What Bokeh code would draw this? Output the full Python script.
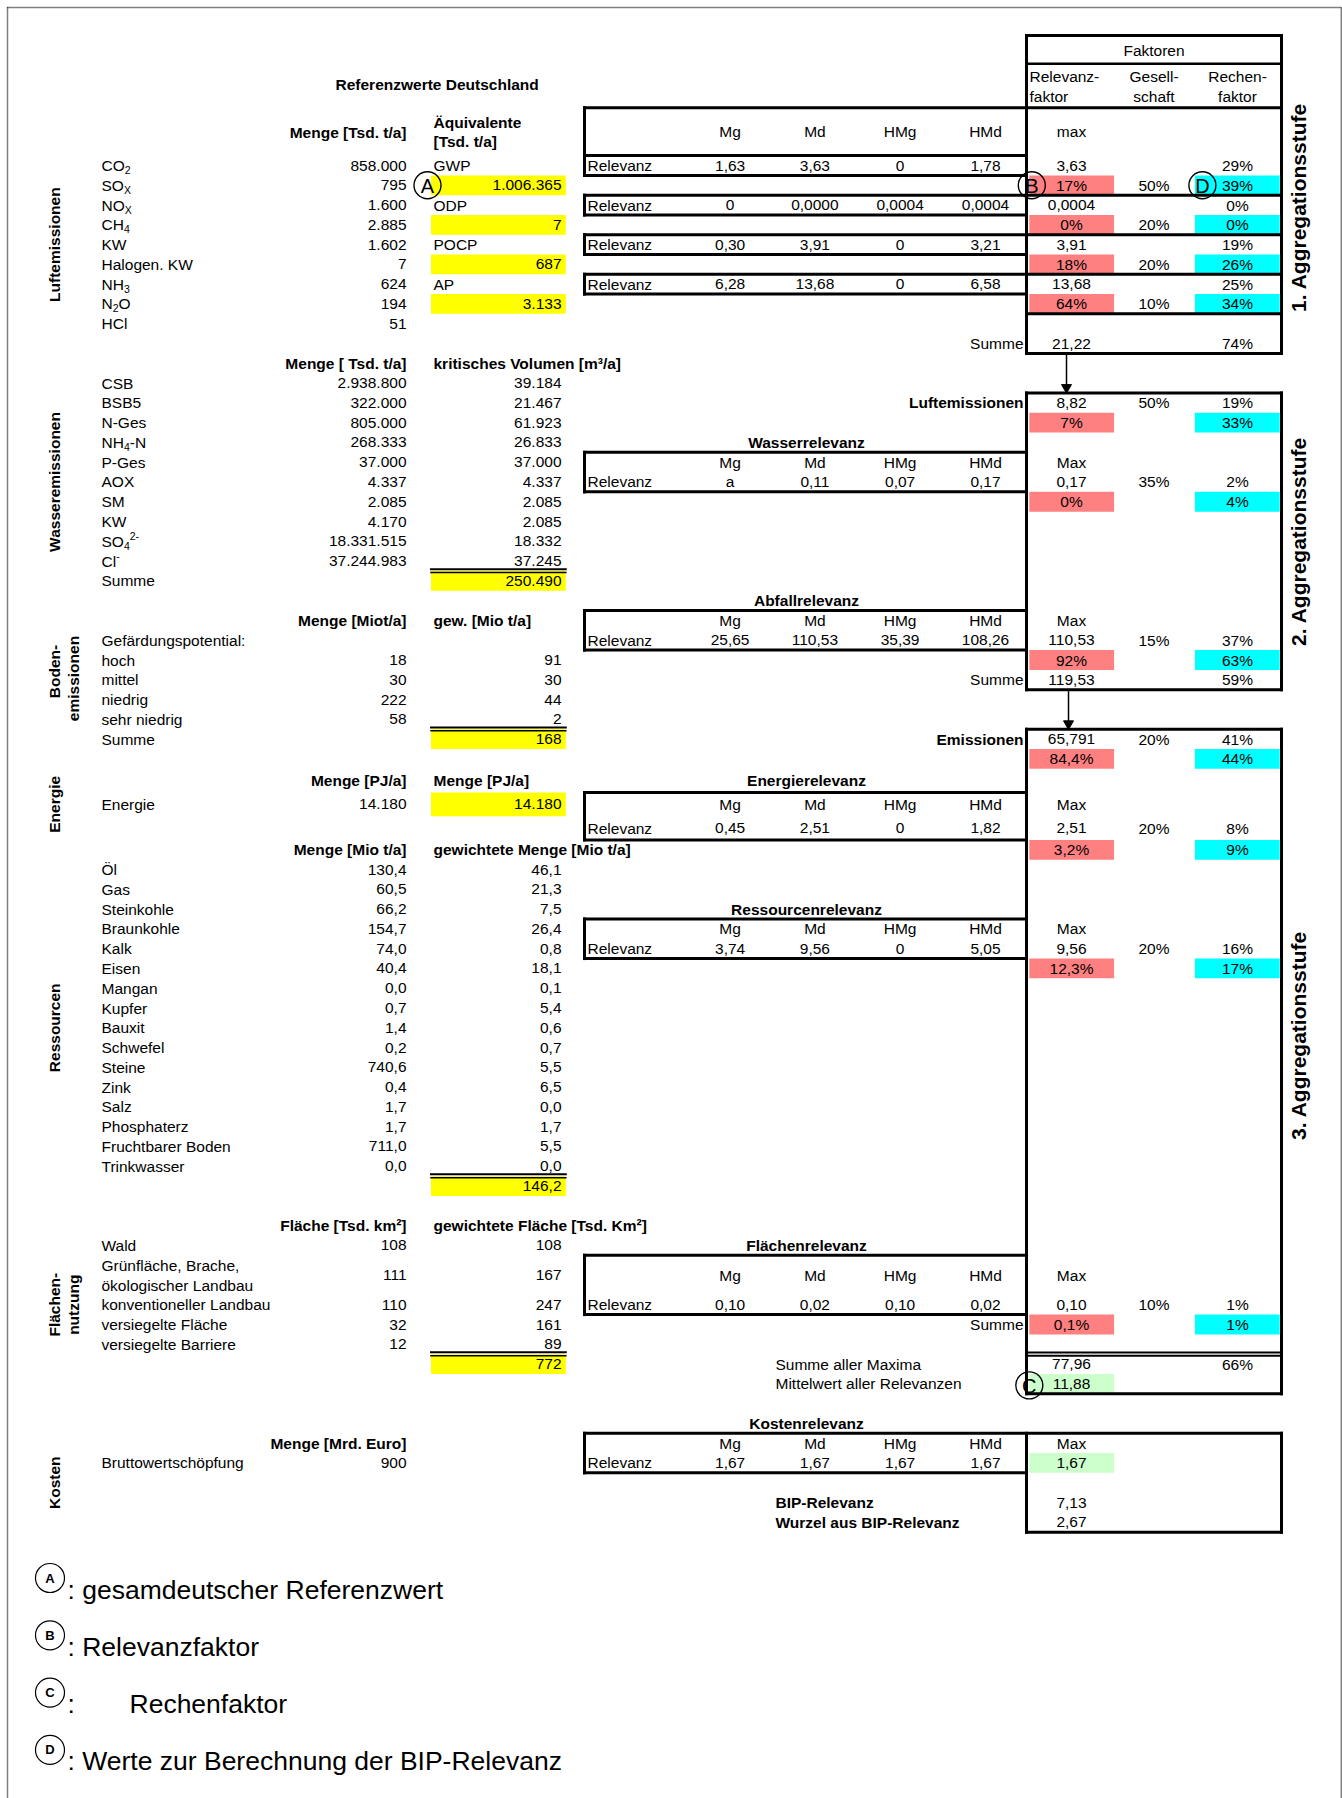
import math
from bokeh.plotting import figure
from bokeh.models import Range1d, ColumnDataSource
from bokeh.core.properties import value
from bokeh.embed import file_html
from bokeh.resources import INLINE

# ------------------------------------------------------------------ data
luft_labels = ["CO_{2}", "SO_{X}", "NO_{X}", "CH_{4}", "KW", "Halogen. KW", "NH_{3}", "N_{2}O", "HCl"]
luft_menge = ["858.000", "795", "1.600", "2.885", "1.602", "7", "624", "194", "51"]
luft_eq_names = ["GWP", "ODP", "POCP", "AP"]
luft_eq_values = ["1.006.365", "7", "687", "3.133"]

rel_cols = ["Mg", "Md", "HMg", "HMd"]
luft_rel = [["1,63", "3,63", "0", "1,78"],
            ["0", "0,0000", "0,0004", "0,0004"],
            ["0,30", "3,91", "0", "3,21"],
            ["6,28", "13,68", "0", "6,58"]]
luft_max = ["3,63", "0,0004", "3,91", "13,68"]
luft_relfaktor = ["17%", "0%", "18%", "64%"]
luft_gesell = ["50%", "20%", "20%", "10%"]
luft_rechen_max = ["29%", "0%", "19%", "25%"]
luft_rechen = ["39%", "0%", "26%", "34%"]
luft_summe = ["21,22", "74%"]

wasser_labels = ["CSB", "BSB5", "N-Ges", "NH_{4}-N", "P-Ges", "AOX", "SM", "KW", "SO_{4}^{2-}", "Cl^{-}"]
wasser_menge = ["2.938.800", "322.000", "805.000", "268.333", "37.000", "4.337", "2.085", "4.170",
                "18.331.515", "37.244.983"]
wasser_volumen = ["39.184", "21.467", "61.923", "26.833", "37.000", "4.337", "2.085", "2.085",
                  "18.332", "37.245"]
wasser_summe = "250.490"

agg2_luft = ["8,82", "50%", "19%", "7%", "33%"]          # max, gesell, rechen, relfaktor, rechen%
wasser_rel = ["a", "0,11", "0,07", "0,17"]
wasser_fak = ["0,17", "35%", "2%", "0%", "4%"]
abfall_rel = ["25,65", "110,53", "35,39", "108,26"]
abfall_fak = ["110,53", "15%", "37%", "92%", "63%"]
agg2_summe = ["119,53", "59%"]

boden_labels = ["hoch", "mittel", "niedrig", "sehr niedrig"]
boden_menge = ["18", "30", "222", "58"]
boden_gew = ["91", "30", "44", "2"]
boden_summe = "168"

agg3_emis = ["65,791", "20%", "41%", "84,4%", "44%"]
energie_menge = ["14.180", "14.180"]
energie_rel = ["0,45", "2,51", "0", "1,82"]
energie_fak = ["2,51", "20%", "8%", "3,2%", "9%"]

res_labels = ["Öl", "Gas", "Steinkohle", "Braunkohle", "Kalk", "Eisen", "Mangan", "Kupfer", "Bauxit",
              "Schwefel", "Steine", "Zink", "Salz", "Phosphaterz", "Fruchtbarer Boden", "Trinkwasser"]
res_menge = ["130,4", "60,5", "66,2", "154,7", "74,0", "40,4", "0,0", "0,7", "1,4", "0,2", "740,6",
             "0,4", "1,7", "1,7", "711,0", "0,0"]
res_gew = ["46,1", "21,3", "7,5", "26,4", "0,8", "18,1", "0,1", "5,4", "0,6", "0,7", "5,5", "6,5",
           "0,0", "1,7", "5,5", "0,0"]
res_summe = "146,2"
res_rel = ["3,74", "9,56", "0", "5,05"]
res_fak = ["9,56", "20%", "16%", "12,3%", "17%"]

fl_labels = ["Wald", "Grünfläche, Brache,|ökologischer Landbau", "konventioneller Landbau",
             "versiegelte Fläche", "versiegelte Barriere"]
fl_flaeche = ["108", "111", "110", "32", "12"]
fl_gew = ["108", "167", "247", "161", "89"]
fl_summe = "772"
fl_rel = ["0,10", "0,02", "0,10", "0,02"]
fl_fak = ["0,10", "10%", "1%", "0,1%", "1%"]
summe_maxima = ["77,96", "66%"]
mittelwert = "11,88"

kosten_menge = "900"
kosten_rel = ["1,67", "1,67", "1,67", "1,67"]
kosten_max = "1,67"
bip = ["7,13", "2,67"]

legend_items = [("A", "gesamdeutscher Referenzwert"), ("B", "Relevanzfaktor"),
                ("C", "Rechenfaktor"), ("D", "Werte zur Berechnung der BIP-Relevanz")]

# ------------------------------------------------------------------ layout / style
FONT = "Liberation Sans"
FS = 15.5
SUB = 10.5
LW = 3
YELLOW, RED, CYAN, GREEN = "#FFFF00", "#FF8080", "#00FFFF", "#CCFFCC"

X_GROUP, X_GROUP2 = 54, 73
X_LABEL, X_MENGE = 101, 406
X_EQ_L, X_EQ_R = 433, 561
EQ_FILL = (430.5, 565.3)
X_BOX_L, X_MID, X_BOX_R = 584, 1026, 1281
X_RELV = 587
X_COLS = [729.6, 814.4, 899.6, 985]
X_MAX, X_GES, X_RECH = 1071, 1153.5, 1237
RED_FILL = (1028.8, 1113.6)
CYAN_FILL = (1194.4, 1279.2)
X_SUMME_R = 1023
X_TITLE = 806
X_NOTE = 775
X_AGG = 1298

RH = 19.78
row_h = [RH] * 68
for r in (31, 32, 33):
    row_h[r] = 23.7
row_h[55] = 2 * RH
tops = [155.11]
for h in row_h[:-1]:
    tops.append(tops[-1] + h)


def yt(r):
    return tops[r]


def yb(r):
    return tops[r] + row_h[r]


def yc(r):
    return tops[r] + row_h[r] / 2


W, H = 1342, 1798
p = figure(width=W, height=H, x_range=Range1d(0, W), y_range=Range1d(H, 0),
           output_backend="svg", toolbar_location=None, x_axis_location=None,
           y_axis_location=None, min_border=0)
p.outline_line_color = None
p.xgrid.visible = False
p.ygrid.visible = False
p.background_fill_color = "white"
p.border_fill_color = "white"

groups = {}


def T(x, y, s, align="left", bold=False, size=FS, angle=0.0):
    key = (size, bold, align, angle)
    g = groups.setdefault(key, {"x": [], "y": [], "text": []})
    g["x"].append(x)
    g["y"].append(y)
    g["text"].append(s)


WID = {"C": 722, "O": 778, "S": 667, "N": 722, "H": 722, "l": 222, "-": 333, "X": 667}


def tw(s, size):
    return sum(WID.get(c, 556) for c in s) * size / 1000.0


def parse(label):
    segs, buf, i = [], "", 0
    while i < len(label):
        if label[i] in "_^" and i + 1 < len(label) and label[i + 1] == "{":
            if buf:
                segs.append((buf, ""))
                buf = ""
            j = label.index("}", i)
            segs.append((label[i + 2:j], "sub" if label[i] == "_" else "sup"))
            i = j + 1
        else:
            buf += label[i]
            i += 1
    if buf:
        segs.append((buf, ""))
    return segs


def rich(x, y, label):
    for txt, mode in parse(label):
        if mode == "":
            T(x, y, txt)
            x += tw(txt, FS)
        elif mode == "sub":
            T(x, y + 4.5, txt, size=SUB)
            x += tw(txt, SUB)
        else:
            T(x, y - 5.5, txt, size=SUB)
            x += tw(txt, SUB)


segs = {}


def seg(x0, y0, x1, y1, w=LW):
    d = segs.setdefault(w, {"x0": [], "y0": [], "x1": [], "y1": []})
    d["x0"].append(x0); d["y0"].append(y0); d["x1"].append(x1); d["y1"].append(y1)


def box(x0, x1, y0, y1, w=LW):
    seg(x0, y0, x1, y0, w); seg(x0, y1, x1, y1, w)
    seg(x0, y0, x0, y1, w); seg(x1, y0, x1, y1, w)


fills = {}


def fill(x0, x1, r, color):
    d = fills.setdefault(color, {"l": [], "r": [], "t": [], "b": []})
    d["l"].append(x0); d["r"].append(x1); d["t"].append(yt(r)); d["b"].append(yb(r))


circ = {"x": [], "y": [], "size": [], "lw": []}


def circle(x, y, size, lw=1.4):
    circ["x"].append(x); circ["y"].append(y); circ["size"].append(size); circ["lw"].append(lw)


def double_line(x0, x1, y):
    seg(x0, y - 1.8, x1, y - 1.8, 2)
    seg(x0, y + 1.6, x1, y + 1.6, 1.5)


def rel_header(r, max_label="Max"):
    for x, c in zip(X_COLS, rel_cols):
        T(x, yc(r), c, align="center")
    T(X_MAX, yc(r), max_label, align="center")


def rel_values(r, vals):
    T(X_RELV, yc(r), "Relevanz")
    for x, v in zip(X_COLS, vals):
        T(x, yc(r), v, align="center")


def faktor_rows(r, fak):
    # fak = max, gesell, rechen, relfaktor, rechen%
    T(X_MAX, yc(r), fak[0], align="center")
    T(X_GES, yc(r), fak[1], align="center")
    T(X_RECH, yc(r), fak[2], align="center")
    fill(*RED_FILL, r + 1, RED)
    fill(*CYAN_FILL, r + 1, CYAN)
    T(X_MAX, yc(r + 1), fak[3], align="center")
    T(X_RECH, yc(r + 1), fak[4], align="center")


# ------------------------------------------------------------------ dotted frame
p.line([7, 7], [H, 7], line_color="black", line_width=1.5, line_dash="1 1")
p.line([7, W - 1.2], [7, 7], line_color="black", line_width=1.5, line_dash="1 1")
p.line([W - 1.2, W - 1.2], [7, H], line_color="black", line_width=1.5, line_dash="1 1")

# ------------------------------------------------------------------ header
T(335, 84.3, "Referenzwerte Deutschland", bold=True)
T(X_MENGE, 131.7, "Menge [Tsd. t/a]", align="right", bold=True)
T(X_EQ_L, 121.7, "Äquivalente", bold=True)
T(X_EQ_L, 140.7, "[Tsd. t/a]", bold=True)
T(X_GES, 50, "Faktoren", align="center")
T(1029, 76, "Relevanz-")
T(1029, 96, "faktor")
T(X_GES, 76, "Gesell-", align="center")
T(X_GES, 96, "schaft", align="center")
T(X_RECH, 76, "Rechen-", align="center")
T(X_RECH, 96, "faktor", align="center")
for x, c in zip(X_COLS, rel_cols):
    T(x, 131, c, align="center")
T(X_MAX, 131, "max", align="center")

# ------------------------------------------------------------------ Luftemissionen
T(X_GROUP, yc(4), "Luftemissionen", align="center", bold=True, angle=math.pi / 2)
for i, (lab, m) in enumerate(zip(luft_labels, luft_menge)):
    rich(X_LABEL, yc(i), lab)
    T(X_MENGE, yc(i), m, align="right")
for k in range(4):
    r = 2 * k
    T(X_EQ_L, yc(r), luft_eq_names[k])
    fill(*EQ_FILL, r + 1, YELLOW)
    T(X_EQ_R, yc(r + 1), luft_eq_values[k], align="right")
    rel_values(r, luft_rel[k])
    T(X_MAX, yc(r), luft_max[k], align="center")
    T(X_RECH, yc(r), luft_rechen_max[k], align="center")
    fill(*RED_FILL, r + 1, RED)
    fill(*CYAN_FILL, r + 1, CYAN)
    T(X_MAX, yc(r + 1), luft_relfaktor[k], align="center")
    T(X_GES, yc(r + 1), luft_gesell[k], align="center")
    T(X_RECH, yc(r + 1), luft_rechen[k], align="center")
T(X_SUMME_R, yc(9), "Summe", align="right")
T(X_MAX, yc(9), luft_summe[0], align="center")
T(X_RECH, yc(9), luft_summe[1], align="center")

box(X_MID, X_BOX_R, 35, yb(9))
seg(X_MID, 63.3, X_BOX_R, 63.3, 2.5)
seg(X_BOX_L, 107.3, X_BOX_R, 107.3)
seg(X_BOX_L, 107.3, X_BOX_L, yb(0))
seg(X_BOX_L, yt(0), X_MID, yt(0))
seg(X_BOX_L, yb(0), X_MID, yb(0))
for r in (2, 4, 6):
    box(X_BOX_L, X_MID, yt(r), yb(r))
for r in (1, 3, 5, 7):
    seg(X_MID, yb(r), X_BOX_R, yb(r))

# ------------------------------------------------------------------ Wasseremissionen
T(X_MENGE, yc(10), "Menge [ Tsd. t/a]", align="right", bold=True)
T(X_EQ_L, yc(10), "kritisches Volumen [m³/a]", bold=True)
T(X_GROUP, yc(16), "Wasseremissionen", align="center", bold=True, angle=math.pi / 2)
for i, (lab, m, v) in enumerate(zip(wasser_labels, wasser_menge, wasser_volumen)):
    r = 11 + i
    rich(X_LABEL, yc(r), lab)
    T(X_MENGE, yc(r), m, align="right")
    T(X_EQ_R, yc(r), v, align="right")
T(X_LABEL, yc(21), "Summe")
fill(*EQ_FILL, 21, YELLOW)
T(X_EQ_R, yc(21), wasser_summe, align="right")
double_line(EQ_FILL[0], EQ_FILL[1], yt(21))

# ------------------------------------------------------------------ 2. Aggregationsstufe
box(X_MID, X_BOX_R, yt(12), yb(26))
T(X_SUMME_R, yc(12), "Luftemissionen", align="right", bold=True)
faktor_rows(12, agg2_luft)
T(X_TITLE, yc(14), "Wasserrelevanz", align="center", bold=True)
box(X_BOX_L, X_MID, yt(15), yb(16))
rel_header(15)
rel_values(16, wasser_rel)
faktor_rows(16, wasser_fak)
T(X_TITLE, yc(22), "Abfallrelevanz", align="center", bold=True)
box(X_BOX_L, X_MID, yt(23), yb(24))
rel_header(23)
rel_values(24, abfall_rel)
faktor_rows(24, abfall_fak)
T(X_SUMME_R, yc(26), "Summe", align="right")
T(X_MAX, yc(26), agg2_summe[0], align="center")
T(X_RECH, yc(26), agg2_summe[1], align="center")

# ------------------------------------------------------------------ Bodenemissionen
T(X_MENGE, yc(23), "Menge [Miot/a]", align="right", bold=True)
T(X_EQ_L, yc(23), "gew. [Mio t/a]", bold=True)
T(X_LABEL, yc(24), "Gefärdungspotential:")
T(X_GROUP, 671, "Boden-", align="center", bold=True, angle=math.pi / 2)
T(X_GROUP2, 678, "emissionen", align="center", bold=True, angle=math.pi / 2)
for i, (lab, m, g) in enumerate(zip(boden_labels, boden_menge, boden_gew)):
    r = 25 + i
    T(X_LABEL, yc(r), lab)
    T(X_MENGE, yc(r), m, align="right")
    T(X_EQ_R, yc(r), g, align="right")
T(X_LABEL, yc(29), "Summe")
fill(*EQ_FILL, 29, YELLOW)
T(X_EQ_R, yc(29), boden_summe, align="right")
double_line(EQ_FILL[0], EQ_FILL[1], yt(29))

# ------------------------------------------------------------------ 3. Aggregationsstufe
box(X_MID, X_BOX_R, yt(29), yb(60))
seg(X_MID, yb(58) - 1.7, X_BOX_R, yb(58) - 1.7, 2)
seg(X_MID, yb(58) + 1.7, X_BOX_R, yb(58) + 1.7, 2)
T(X_SUMME_R, yc(29), "Emissionen", align="right", bold=True)
faktor_rows(29, agg3_emis)

# Energie
T(X_GROUP, yc(32), "Energie", align="center", bold=True, angle=math.pi / 2)
T(X_MENGE, yc(31), "Menge [PJ/a]", align="right", bold=True)
T(X_EQ_L, yc(31), "Menge [PJ/a]", bold=True)
T(X_LABEL, yc(32), "Energie")
T(X_MENGE, yc(32), energie_menge[0], align="right")
fill(*EQ_FILL, 32, YELLOW)
T(X_EQ_R, yc(32), energie_menge[1], align="right")
T(X_TITLE, yc(31), "Energierelevanz", align="center", bold=True)
box(X_BOX_L, X_MID, yt(32), yb(33))
rel_header(32)
rel_values(33, energie_rel)
faktor_rows(33, energie_fak)

# Ressourcen
T(X_MENGE, yc(34), "Menge [Mio t/a]", align="right", bold=True)
T(X_EQ_L, yc(34), "gewichtete Menge [Mio t/a]", bold=True)
T(X_GROUP, yc(43), "Ressourcen", align="center", bold=True, angle=math.pi / 2)
for i, (lab, m, g) in enumerate(zip(res_labels, res_menge, res_gew)):
    r = 35 + i
    T(X_LABEL, yc(r), lab)
    T(X_MENGE, yc(r), m, align="right")
    T(X_EQ_R, yc(r), g, align="right")
fill(*EQ_FILL, 51, YELLOW)
T(X_EQ_R, yc(51), res_summe, align="right")
double_line(EQ_FILL[0], EQ_FILL[1], yt(51))
T(X_TITLE, yc(37), "Ressourcenrelevanz", align="center", bold=True)
box(X_BOX_L, X_MID, yt(38), yb(39))
rel_header(38)
rel_values(39, res_rel)
faktor_rows(39, res_fak)

# Flächennutzung
T(X_MENGE, yc(53), "Fläche [Tsd. km²]", align="right", bold=True)
T(X_EQ_L, yc(53), "gewichtete Fläche [Tsd. Km²]", bold=True)
T(X_GROUP, yc(56), "Flächen-", align="center", bold=True, angle=math.pi / 2)
T(X_GROUP2, yc(56), "nutzung", align="center", bold=True, angle=math.pi / 2)
for i, (lab, f, g) in enumerate(zip(fl_labels, fl_flaeche, fl_gew)):
    r = 54 + i
    parts = lab.split("|")
    if len(parts) == 2:
        T(X_LABEL, yc(r) - 10, parts[0])
        T(X_LABEL, yc(r) + 10, parts[1])
    else:
        T(X_LABEL, yc(r), lab)
    T(X_MENGE, yc(r), f, align="right")
    T(X_EQ_R, yc(r), g, align="right")
fill(*EQ_FILL, 59, YELLOW)
T(X_EQ_R, yc(59), fl_summe, align="right")
double_line(EQ_FILL[0], EQ_FILL[1], yt(59))
T(X_TITLE, yc(54), "Flächenrelevanz", align="center", bold=True)
box(X_BOX_L, X_MID, yt(55), yb(56))
rel_header(55)
rel_values(56, fl_rel)
faktor_rows(56, fl_fak)
T(X_SUMME_R, yc(57), "Summe", align="right")

T(X_NOTE, yc(59), "Summe aller Maxima")
T(X_MAX, yc(59), summe_maxima[0], align="center")
T(X_RECH, yc(59), summe_maxima[1], align="center")
T(X_NOTE, yc(60), "Mittelwert aller Relevanzen")
fill(*RED_FILL, 60, GREEN)
T(X_MAX, yc(60), mittelwert, align="center")

# ------------------------------------------------------------------ Kosten
T(X_TITLE, yc(62), "Kostenrelevanz", align="center", bold=True)
T(X_MENGE, yc(63), "Menge [Mrd. Euro]", align="right", bold=True)
T(X_GROUP, yc(65), "Kosten", align="center", bold=True, angle=math.pi / 2)
T(X_LABEL, yc(64), "Bruttowertschöpfung")
T(X_MENGE, yc(64), kosten_menge, align="right")
rel_header(63)
rel_values(64, kosten_rel)
fill(*RED_FILL, 64, GREEN)
T(X_MAX, yc(64), kosten_max, align="center")
T(X_NOTE, yc(66), "BIP-Relevanz", bold=True)
T(X_NOTE, yc(67), "Wurzel aus BIP-Relevanz", bold=True)
T(X_MAX, yc(66), bip[0], align="center")
T(X_MAX, yc(67), bip[1], align="center")
seg(X_BOX_L, yt(63), X_BOX_R, yt(63))
seg(X_BOX_L, yb(64), X_MID, yb(64))
seg(X_BOX_L, yt(63), X_BOX_L, yb(64))
seg(X_MID, yt(63), X_MID, yb(67))
seg(X_BOX_R, yt(63), X_BOX_R, yb(67))
seg(X_MID, yb(67), X_BOX_R, yb(67))

# ------------------------------------------------------------------ Aggregation labels, arrows
T(X_AGG, 207, "1. Aggregationsstufe", align="center", bold=True, size=21, angle=math.pi / 2)
T(X_AGG, 541, "2. Aggregationsstufe", align="center", bold=True, size=21, angle=math.pi / 2)
T(X_AGG, 1035, "3. Aggregationsstufe", align="center", bold=True, size=21, angle=math.pi / 2)

arrow_x = [1066, 1068]
arrow_y0 = [yb(9) + 1.5, yb(26) + 1.5]
arrow_y1 = [yt(12) - 1.5, yt(29) - 1.5]
p.segment(x0=arrow_x, y0=arrow_y0, x1=arrow_x, y1=[y - 6 for y in arrow_y1],
          line_color="black", line_width=1.5)
p.scatter(x=arrow_x, y=[y - 4 for y in arrow_y1], marker="inverted_triangle", size=10,
          fill_color="black", line_color="black")

# ------------------------------------------------------------------ annotation circles
ann = [("A", 427, yc(1)), ("B", 1031.3, yc(1)), ("D", 1201.9, yc(1)), ("C", 1028.8, yc(60) + 1.5)]
for letter, x, y in ann:
    circle(x, y, 27)
    T(x, y + 0.5, letter, align="center", size=20)

# ------------------------------------------------------------------ legend
LEG_Y0, LEG_DY = 1589, 57.3
for k, (letter, txt) in enumerate(legend_items):
    y = LEG_Y0 + k * LEG_DY
    circle(49.5, y - 11.5, 29, 1.2)
    T(49.5, y - 11.5, letter, align="center", bold=True, size=13)
    if letter == "C":
        T(67, y, ":", size=26.5)
        T(129, y, txt, size=26.5)
    else:
        T(67, y, ": " + txt, size=26.5)

# ------------------------------------------------------------------ render
for color, d in fills.items():
    p.quad(left=d["l"], right=d["r"], top=d["t"], bottom=d["b"], fill_color=color, line_color=None)

for w, d in segs.items():
    p.segment(x0=d["x0"], y0=d["y0"], x1=d["x1"], y1=d["y1"], line_color="black",
              line_width=w, line_cap="square")

for (size, bold, align, angle), g in groups.items():
    p.text(x="x", y="y", text="text", source=ColumnDataSource(g),
           text_font=value(FONT), text_font_size=value(f"{size}px"),
           text_font_style="bold" if bold else "normal",
           text_align=align, text_baseline="middle", angle=angle, text_color="black")

p.scatter(x="x", y="y", size="size", line_width="lw", source=ColumnDataSource(circ),
          marker="circle", fill_color=None, line_color="black")

open("out.html", "w").write(file_html(p, INLINE))
